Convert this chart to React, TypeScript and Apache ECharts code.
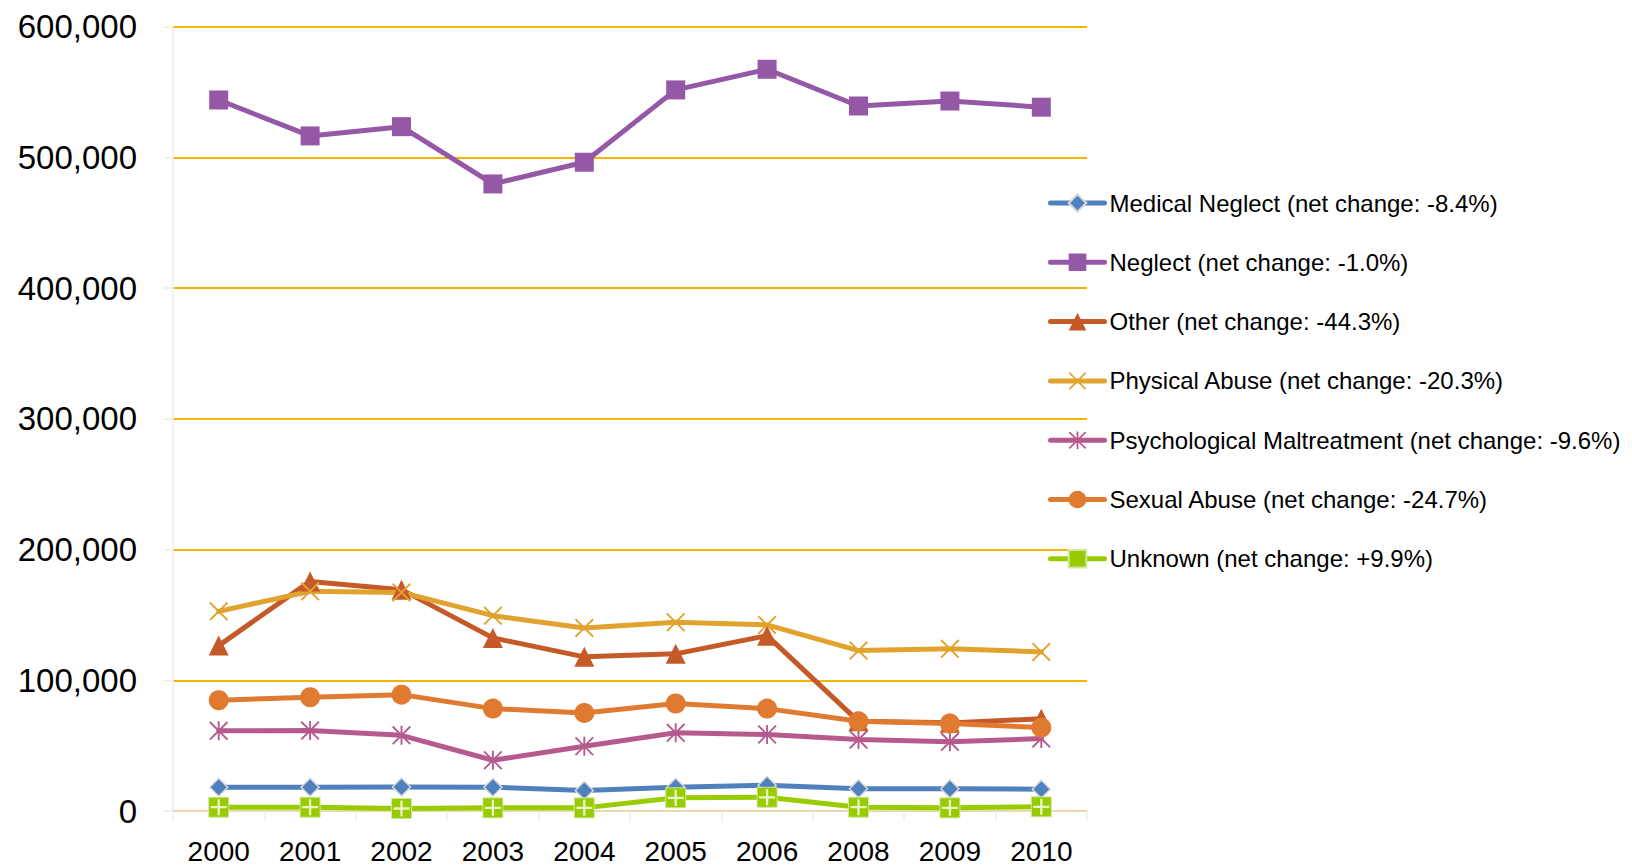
import React, { useEffect, useRef } from "react";
import * as echarts from "echarts";

const categories = ["2000", "2001", "2002", "2003", "2004", "2005", "2006", "2008", "2009", "2010"];
const yTicks = [0, 100000, 200000, 300000, 400000, 500000, 600000];

const seriesNames = [
  "Medical Neglect (net change: -8.4%)",
  "Neglect (net change: -1.0%)",
  "Other (net change: -44.3%)",
  "Physical Abuse (net change: -20.3%)",
  "Psychological Maltreatment (net change: -9.6%)",
  "Sexual Abuse (net change: -24.7%)",
  "Unknown (net change: +9.9%)",
];

const medicalNeglect = [18200, 18200, 18400, 18200, 15700, 18200, 19700, 17000, 17000, 16700];
const neglect = [543800, 516300, 523400, 479600, 496200, 551500, 567300, 539200, 543000, 538300];
const other = [126500, 175600, 169300, 132400, 117900, 120200, 134100, 68600, 67400, 70500];
const physicalAbuse = [152700, 168000, 167200, 149400, 140000, 144300, 142300, 122700, 124000, 121700];
const psychological = [61300, 61500, 57900, 38800, 49500, 59800, 58500, 54600, 52900, 55400];
const sexualAbuse = [84700, 87000, 89000, 78300, 75000, 82200, 78300, 68600, 66900, 63800];
const unknown = [2900, 2900, 1900, 2400, 2400, 10100, 10500, 2900, 2400, 3200];

const X_PATH =
  "path://M7 0L50 43L93 0L100 7L57 50L100 93L93 100L50 57L7 100L0 93L43 50L0 7Z";
const STAR_PATH =
  "path://M7 0L50 43L93 0L100 7L57 50L100 93L93 100L50 57L7 100L0 93L43 50L0 7Z M45 0L55 0L55 100L45 100Z";
const PLUS_PATH =
  "path://M44 8L56 8L56 44L92 44L92 56L56 56L56 92L44 92L44 56L8 56L8 44L44 44Z";

const FONT = "'Liberation Sans', Arial, sans-serif";

export default function App() {
  const ref = useRef<HTMLDivElement>(null);

  useEffect(() => {
    if (!ref.current) return;
    const chart = echarts.init(ref.current, null, { renderer: "svg" });

    const mk = (
      name: string,
      data: number[],
      color: string,
      symbol: string,
      symbolSize: number,
      extraItem: any = {}
    ) => ({
      name,
      type: "line",
      data,
      symbol,
      symbolSize,
      showSymbol: true,
      lineStyle: { color, width: 5, cap: "round", join: "round" },
      itemStyle: { color, ...extraItem },
      emphasis: { disabled: true },
    });

    const option: any = {
      animation: false,
      backgroundColor: "#ffffff",
      textStyle: { fontFamily: FONT },
      grid: { left: 173, top: 26.5, width: 914, height: 785, containLabel: false },
      legend: {
        orient: "vertical",
        left: 1048,
        top: 191,
        padding: 0,
        itemWidth: 54,
        itemHeight: 22,
        itemGap: 35.3,
        itemTextGap: 2,
        selectedMode: false,
        data: seriesNames,
        lineStyle: { width: 5, cap: "round" },
        textStyle: { fontSize: 24, lineHeight: 24, color: "#000", fontFamily: FONT },
      },
      xAxis: {
        type: "category",
        data: categories,
        boundaryGap: true,
        axisLine: { show: true, lineStyle: { color: "#E6E6E6", width: 1.5 } },
        axisTick: { show: true, length: 10, lineStyle: { color: "#EDEDED", width: 1.5 } },
        axisLabel: { fontSize: 28, color: "#000", margin: 26, fontFamily: FONT },
        splitLine: { show: false },
      },
      yAxis: {
        type: "value",
        min: yTicks[0],
        max: yTicks[yTicks.length - 1],
        interval: yTicks[1] - yTicks[0],
        axisLine: { show: true, lineStyle: { color: "#EDEDED", width: 1.5 } },
        axisTick: { show: true, length: 10, lineStyle: { color: "#EDEDED", width: 1.5 } },
        axisLabel: {
          fontSize: 33,
          color: "#000",
          margin: 36,
          fontFamily: FONT,
          formatter: (v: number) => v.toLocaleString("en-US"),
        },
        splitLine: { show: true, lineStyle: { color: "#F5B400", width: 2 } },
      },
      series: [
        mk(seriesNames[0], medicalNeglect, "#4F81BD", "diamond", 18, {
          borderColor: "#D9D9D9",
          borderWidth: 1.5,
        }),
        mk(seriesNames[1], neglect, "#9558A6", "rect", 19),
        mk(seriesNames[2], other, "#C55A28", "triangle", 20),
        mk(seriesNames[3], physicalAbuse, "#E2A32E", X_PATH, 19),
        mk(seriesNames[4], psychological, "#B65A8E", STAR_PATH, 19),
        mk(seriesNames[5], sexualAbuse, "#E07A30", "circle", 20),
        mk(seriesNames[6], unknown, "#99CC00", "rect", 20, {
          borderColor: "#CFE6A0",
          borderWidth: 1,
        }),
        {
          name: "Unknown marks",
          type: "scatter",
          data: unknown,
          symbol: PLUS_PATH,
          symbolSize: 16,
          itemStyle: { color: "#ffffff" },
          silent: true,
          z: 3,
        },
      ],
    };

    chart.setOption(option);
    return () => chart.dispose();
  }, []);

  return (
    <div
      ref={ref}
      style={{ position: "fixed", left: 0, top: 0, width: 1632, height: 865, background: "#fff" }}
    />
  );
}
